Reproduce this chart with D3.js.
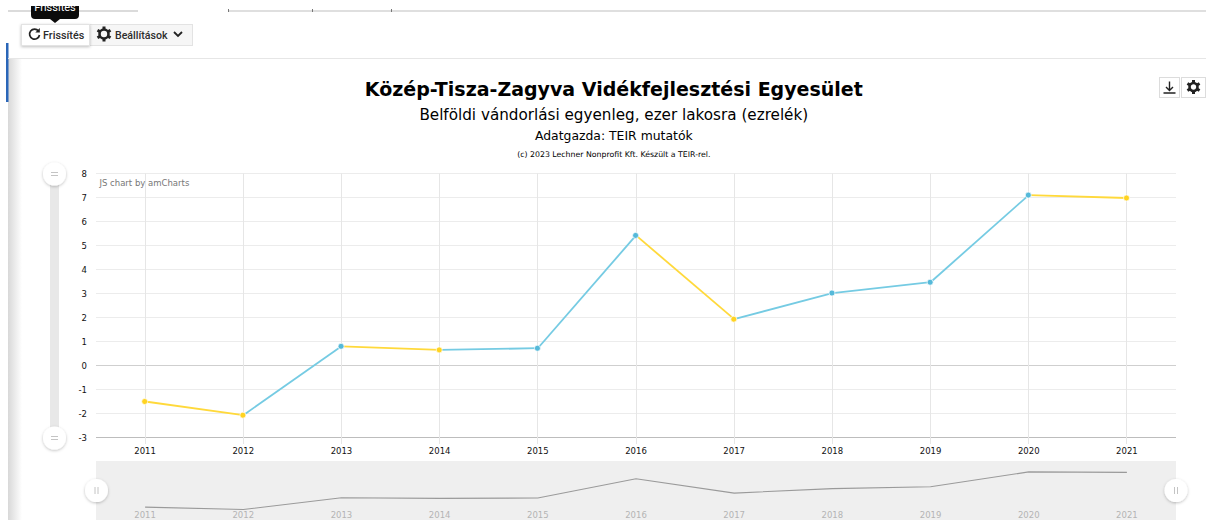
<!DOCTYPE html>
<html><head><meta charset="utf-8">
<script src="https://cdn.jsdelivr.net/npm/d3@7"></script>
<style>html,body{margin:0;padding:0;background:#fff;overflow:hidden}svg{display:block}text{font-family:"DejaVu Sans",sans-serif}</style>
</head><body><svg id="c" width="1206" height="520"></svg>
<script>
const years=["2011","2012","2013","2014","2015","2016","2017","2018","2019","2020","2021"];
const values=[-1.5,-2.07,0.8,0.65,0.72,5.42,1.93,3.02,3.47,7.1,6.98];
const pointColors=["#ffd321","#ffd321","#55b9d9","#ffd321","#55b9d9","#55b9d9","#ffd321","#55b9d9","#55b9d9","#55b9d9","#ffd321"];
const segmentColors=["#ffd93b","#75cbe3","#ffd93b","#75cbe3","#75cbe3","#ffd93b","#75cbe3","#75cbe3","#75cbe3","#ffd93b"];
const yTicks=[8,7,6,5,4,3,2,1,0,-1,-2,-3];
const titleText="Közép-Tisza-Zagyva Vidékfejlesztési Egyesület";
const subtitleText="Belföldi vándorlási egyenleg, ezer lakosra (ezrelék)";
const sourceText="Adatgazda: TEIR mutatók";
const copyrightText="(c) 2023 Lechner Nonprofit Kft. Készült a TEIR-rel.";

const svg=d3.select("#c");
const defs=svg.append("defs");
const g=defs.append("linearGradient").attr("id","edge");
g.append("stop").attr("offset",0).attr("stop-color","#d8d8d8");
g.append("stop").attr("offset",1).attr("stop-color","#ffffff");
const f=defs.append("filter").attr("id","sh").attr("x","-50%").attr("y","-50%").attr("width","200%").attr("height","200%");
f.append("feDropShadow").attr("dx",0).attr("dy",1).attr("stdDeviation",1.5).attr("flood-color","#000").attr("flood-opacity",0.25);

// page chrome
svg.append("rect").attr("x",8).attr("y",58).attr("width",14).attr("height",462).attr("fill","url(#edge)");
svg.append("rect").attr("x",6).attr("y",43).attr("width",2.5).attr("height",59).attr("fill","#2a66b8");
svg.append("line").attr("x1",8).attr("x2",1206).attr("y1",58.5).attr("y2",58.5).attr("stroke","#e6e6e6");
svg.append("line").attr("x1",8).attr("x2",138).attr("y1",11).attr("y2",11).attr("stroke","#cfcfcf").attr("stroke-width",1.5);
svg.append("line").attr("x1",228).attr("x2",1206).attr("y1",11).attr("y2",11).attr("stroke","#d4d4d4").attr("stroke-width",1.5);
[228,312,391].forEach(x=>svg.append("line").attr("x1",x+.5).attr("x2",x+.5).attr("y1",9).attr("y2",12).attr("stroke","#777"));
// tooltip
svg.append("path").attr("d","M31 0H79V15Q79 19 75 19H60L55 23L50 19H35Q31 19 31 15Z").attr("fill","#0b0b0b");
svg.append("text").attr("x",55).attr("y",11).attr("text-anchor","middle").attr("font-size",11).attr("fill","#fff").style("font-family","Roboto").text("Frissítés");
svg.append("rect").attr("x",25).attr("y",0).attr("width",60).attr("height",6).attr("fill","#fff");
// toolbar
svg.append("rect").attr("x",89.5).attr("y",24.5).attr("width",103).attr("height",21).attr("fill","#f6f6f6").attr("stroke","#e3e3e3");
svg.append("rect").attr("x",21.5).attr("y",24.5).attr("width",68).attr("height",21).attr("fill","#fff").attr("stroke","#e3e3e3").attr("filter","url(#sh)");
svg.append("text").attr("x",43).attr("y",39).attr("font-size",10.8).attr("font-weight",500).attr("fill","#2d2d2d").style("font-family","Roboto").text("Frissítés");
svg.append("text").attr("x",115).attr("y",39).attr("font-size",10.6).attr("font-weight",500).attr("fill","#2d2d2d").style("font-family","Roboto").text("Beállítások");
svg.append("path").attr("d","M38.5 31A5 5 0 1 0 39.5 35").attr("fill","none").attr("stroke","#222").attr("stroke-width",1.7);
svg.append("path").attr("d","M39.8 28V32.5H35.3Z").attr("fill","#222");
function gear(cx,cy,r){
  const a=svg.append("g").attr("transform",`translate(${cx},${cy})`);
  d3.range(6).forEach(i=>a.append("rect").attr("x",-1.5).attr("y",-r-1.5).attr("width",3).attr("height",3.5).attr("fill","#222").attr("transform",`rotate(${i*60})`));
  a.append("circle").attr("r",r-1.5).attr("fill","none").attr("stroke","#222").attr("stroke-width",2.6);
}
gear(104,34,6);
svg.append("path").attr("d","M174 32L178 36L182 32").attr("fill","none").attr("stroke","#222").attr("stroke-width",1.8);
// export buttons
svg.append("rect").attr("x",1159.5).attr("y",77.5).attr("width",20).attr("height",20).attr("fill","#fff").attr("stroke","#dcdcdc");
svg.append("rect").attr("x",1181.5).attr("y",77.5).attr("width",24).attr("height",20).attr("fill","#fff").attr("stroke","#dcdcdc");
svg.append("path").attr("d","M1169.5 81.5V90M1166 87L1169.5 90.5L1173 87M1163.5 93H1175.5").attr("fill","none").attr("stroke","#222").attr("stroke-width",1.4);
gear(1193.5,87,5.5);

// titles
const cx=613.8;
svg.append("text").attr("x",cx).attr("y",95.5).attr("text-anchor","middle").attr("font-size",19).attr("font-weight",700).attr("fill","#000").text(titleText);
svg.append("text").attr("x",cx).attr("y",120).attr("text-anchor","middle").attr("font-size",15.2).attr("fill","#000").text(subtitleText);
svg.append("text").attr("x",cx).attr("y",140).attr("text-anchor","middle").attr("font-size",12.4).attr("fill","#000").text(sourceText);
svg.append("text").attr("x",cx).attr("y",157).attr("text-anchor","middle").attr("font-size",7.8).attr("fill","#000").text(copyrightText);

// scales
const x=d3.scaleBand().domain(years).range([96,1176]);
const y=d3.scaleLinear().domain([-3,8]).range([437.5,173.5]);
const xc=d=>x(d)+x.bandwidth()/2;

// grid
svg.append("g").selectAll("line").data(yTicks).join("line")
 .attr("x1",96).attr("x2",1176).attr("y1",d=>y(d)).attr("y2",d=>y(d))
 .attr("stroke",d=>d===0?"#cfcfcf":d===-3?"#bdbdbd":"#ececec");
svg.append("g").selectAll("line").data(years).join("line")
 .attr("x1",d=>Math.round(xc(d)-.5)+.5).attr("x2",d=>Math.round(xc(d)-.5)+.5).attr("y1",173.5).attr("y2",444)
 .attr("stroke","#e6e6e6");

// axes
const yAxis=svg.append("g").attr("transform","translate(96,0)").call(d3.axisLeft(y).tickValues(yTicks).tickSize(0).tickPadding(9).tickFormat(d3.format("d")));
yAxis.select(".domain").remove();
yAxis.selectAll("text").attr("font-size",8.5).attr("fill","#111").style("font-family","DejaVu Sans").text(d=>String(d));
const xAxis=svg.append("g").attr("transform","translate(0,437.5)").call(d3.axisBottom(x).tickSize(0).tickPadding(10.5));
xAxis.select(".domain").remove();
xAxis.selectAll("text").attr("font-size",8.5).attr("fill","#111").style("font-family","DejaVu Sans");
svg.append("text").attr("x",99.5).attr("y",186).attr("font-size",8.5).attr("fill","#777").text("JS chart by amCharts");

// series
svg.append("g").selectAll("line").data(d3.pairs(years.map((d,i)=>({d,v:values[i]})))).join("line")
 .attr("x1",p=>xc(p[0].d)).attr("y1",p=>y(p[0].v)).attr("x2",p=>xc(p[1].d)).attr("y2",p=>y(p[1].v))
 .attr("stroke",(p,i)=>segmentColors[i]).attr("stroke-width",1.8);
svg.append("g").selectAll("circle").data(years).join("circle")
 .attr("cx",d=>xc(d)-.4).attr("cy",(d,i)=>y(values[i])).attr("r",3)
 .attr("fill",(d,i)=>pointColors[i]).attr("stroke","#fff").attr("stroke-width",.7);

// vertical scrollbar
svg.append("rect").attr("x",50).attr("y",173).attr("width",9).attr("height",265).attr("fill","#e8e8e8");
// horizontal scrollbar
svg.append("rect").attr("x",96).attr("y",461).attr("width",1080).attr("height",59).attr("fill","#efefef");
const y2=d3.scaleLinear().domain([-3,8]).range([513.3,468.2]);
svg.append("path").datum(values).attr("fill","none").attr("stroke","#9a9a9a").attr("stroke-width",1.1)
 .attr("d",d3.line().x((d,i)=>xc(years[i])).y(d=>y2(d)));
svg.append("g").selectAll("text").data(years).join("text").attr("x",xc).attr("y",517.5).attr("text-anchor","middle")
 .attr("font-size",8.5).attr("fill","#b4b4b4").text(d=>d);

// handles
function handle(cx,cy,vertical){
  svg.append("circle").attr("cx",cx).attr("cy",cy).attr("r",11.5).attr("fill","#fff").attr("filter","url(#sh)");
  const d=vertical?`M${cx-3.5} ${cy-1.5}H${cx+3.5}M${cx-3.5} ${cy+1.5}H${cx+3.5}`:`M${cx-1.5} ${cy-3.5}V${cy+3.5}M${cx+1.5} ${cy-3.5}V${cy+3.5}`;
  svg.append("path").attr("d",d).attr("stroke","#c4c4c4").attr("fill","none");
}
handle(54.5,174,true);handle(54.5,438,true);handle(96.5,490.5,false);handle(1176,490.5,false);
</script></body></html>
